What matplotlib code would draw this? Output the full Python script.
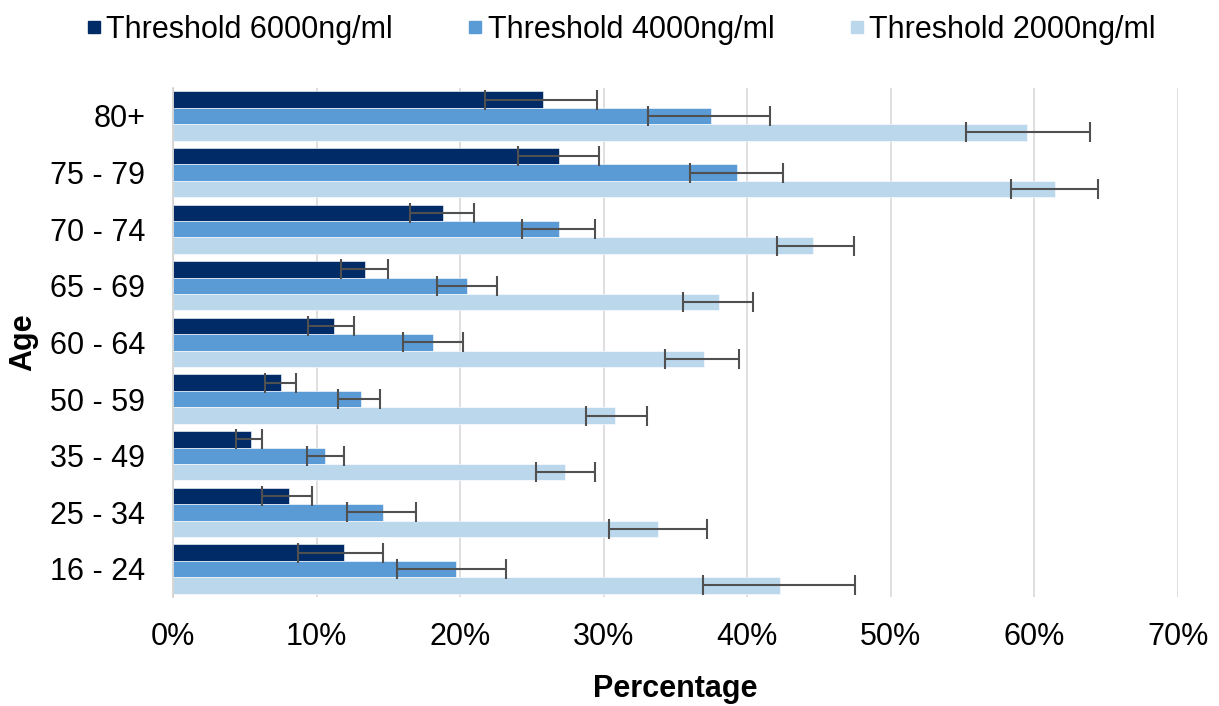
import numpy as np
import matplotlib
matplotlib.use("Agg")
import matplotlib.pyplot as plt
from matplotlib.lines import Line2D

plt.rcParams['font.family'] = ['Liberation Sans', 'DejaVu Sans']

ages = ["16 - 24", "25 - 34", "35 - 49", "50 - 59", "60 - 64",
        "65 - 69", "70 - 74", "75 - 79", "80+"]

# percentages, bottom category first
t6000 = [11.9, 8.1, 5.4, 7.5, 11.2, 13.4, 18.8, 26.9, 25.8]
t6000_lo = [8.7, 6.2, 4.4, 6.4, 9.4, 11.7, 16.5, 24.0, 21.7]
t6000_hi = [14.6, 9.7, 6.2, 8.6, 12.6, 15.0, 21.0, 29.7, 29.5]

t4000 = [19.7, 14.6, 10.6, 13.1, 18.1, 20.5, 26.9, 39.3, 37.5]
t4000_lo = [15.6, 12.1, 9.3, 11.5, 16.0, 18.4, 24.3, 36.0, 33.1]
t4000_hi = [23.2, 16.9, 11.9, 14.4, 20.2, 22.6, 29.4, 42.5, 41.6]

t2000 = [42.3, 33.8, 27.3, 30.8, 37.0, 38.0, 44.6, 61.4, 59.5]
t2000_lo = [36.9, 30.4, 25.3, 28.8, 34.3, 35.5, 42.1, 58.4, 55.2]
t2000_hi = [47.5, 37.2, 29.4, 33.0, 39.4, 40.4, 47.4, 64.4, 63.9]

series = [
    ("Threshold 6000ng/ml", t6000, t6000_lo, t6000_hi, "#002b66", 0.29),
    ("Threshold 4000ng/ml", t4000, t4000_lo, t4000_hi, "#5b9bd5", 0.0),
    ("Threshold 2000ng/ml", t2000, t2000_lo, t2000_hi, "#bad7ec", -0.29),
]

fig = plt.figure(figsize=(12.19, 7.06), dpi=100)
ax = fig.add_axes([0.1419, 0.154, 0.8245, 0.7218])

y = np.arange(len(ages))
bar_h = 0.29
handles = []
for name, vals, lo, hi, color, off in series:
    vals = np.array(vals)
    err = np.vstack([vals - np.array(lo), np.array(hi) - vals])
    ax.barh(y + off, vals, height=bar_h, color=color, edgecolor="white",
            linewidth=0.4, zorder=2)
    ax.errorbar(vals, y + off, xerr=err, fmt="none", ecolor="#505050",
                elinewidth=1.5, capsize=7.5, capthick=1.5, zorder=3)
    handles.append(Line2D([], [], marker="s", linestyle="none", markersize=8,
                          markerfacecolor=color, markeredgecolor=color, label=name))

ax.set_xlim(0, 70)
ax.set_ylim(-0.5, len(ages) - 0.5)
ax.set_xticks(np.arange(0, 71, 10))
ax.set_xticklabels([f"{v}%" for v in range(0, 71, 10)])
ax.set_yticks(y)
ax.set_yticklabels(ages)
ax.tick_params(axis="both", length=0, labelsize=22)
ax.tick_params(axis="x", pad=18)
ax.tick_params(axis="y", pad=20)
ax.grid(axis="x", color="#d9d9d9", linewidth=1.2, zorder=0)
ax.set_axisbelow(True)
for s in ["top", "right", "bottom"]:
    ax.spines[s].set_visible(False)
ax.spines["left"].set_color("#d0d0d0")
ax.spines["left"].set_linewidth(1.2)

ax.set_xlabel("Percentage", fontsize=22, fontweight="bold", labelpad=16)
ax.set_ylabel("Age", fontsize=22, fontweight="bold", labelpad=8)

fig.legend(handles=handles, loc="center", bbox_to_anchor=(0.51, 0.958), ncol=3,
           frameon=False, fontsize=22, handlelength=0.4, handletextpad=0.2,
           columnspacing=2.5, borderaxespad=0)

fig.savefig("out.png", dpi=100)
